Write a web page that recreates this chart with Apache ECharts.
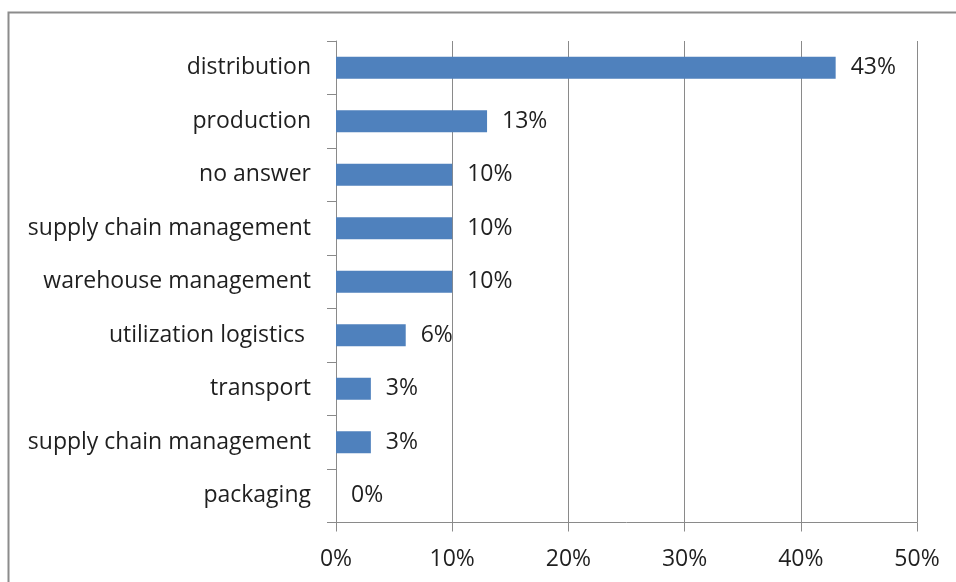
<!DOCTYPE html>
<html>
<head>
<meta charset="utf-8">
<script src="https://cdn.jsdelivr.net/npm/echarts@6/dist/echarts.min.js"></script>
<style>
  html, body { margin: 0; padding: 0; background: #fff; }
  #chart { width: 956px; height: 582px; }
</style>
</head>
<body>
<div id="chart"></div>
<script>
// Areas of logistics, listed bottom to top as the category axis draws them
const categories = [
  'packaging',
  'supply chain management',
  'transport',
  'utilization logistics ',
  'warehouse management',
  'supply chain management',
  'no answer',
  'production',
  'distribution'
];
// Share of answers, in percent
const shares = [0, 3, 3, 6, 10, 10, 10, 13, 43];
const xTicks = { min: 0, max: 50, step: 10 };

const FONT = '"Open Sans", "Noto Sans", sans-serif';
const TEXT = '#1f1f1f';
const GRID = '#8a8a8a';

const chart = echarts.init(document.getElementById('chart'), null, { renderer: 'canvas' });
chart.setOption({
  animation: false,
  backgroundColor: '#ffffff',
  graphic: [{
    type: 'rect',
    shape: { x: 8.5, y: 12.5, width: 1200, height: 1200 },
    style: { fill: 'none', stroke: '#8c8c8c', lineWidth: 2 },
    silent: true
  }],
  grid: { left: 336, right: 39, top: 41, bottom: 59.5, containLabel: false },
  xAxis: {
    type: 'value',
    min: xTicks.min,
    max: xTicks.max,
    interval: xTicks.step,
    axisLine: { show: true, lineStyle: { color: GRID, width: 1 } },
    axisTick: { show: true, length: 9, lineStyle: { color: GRID } },
    splitLine: { show: true, lineStyle: { color: GRID, width: 1 } },
    axisLabel: {
      formatter: v => v + '%',
      fontFamily: FONT, fontSize: 23, color: TEXT, margin: 25
    }
  },
  yAxis: {
    type: 'category',
    data: categories,
    axisLine: { show: true, lineStyle: { color: GRID, width: 1 } },
    axisTick: { show: true, length: 9, lineStyle: { color: GRID } },
    splitLine: { show: false },
    axisLabel: {
      fontFamily: FONT, fontSize: 23, color: TEXT, margin: 25,
      padding: [4, 0, 0, 0]
    }
  },
  series: [{
    type: 'bar',
    data: shares,
    barWidth: 22,
    itemStyle: { color: '#4f81bd' },
    label: {
      show: true,
      position: 'right',
      distance: 15,
      padding: [4, 0, 0, 0],
      formatter: p => p.value + '%',
      fontFamily: FONT, fontSize: 23, color: TEXT
    }
  }]
});
</script>
</body>
</html>
